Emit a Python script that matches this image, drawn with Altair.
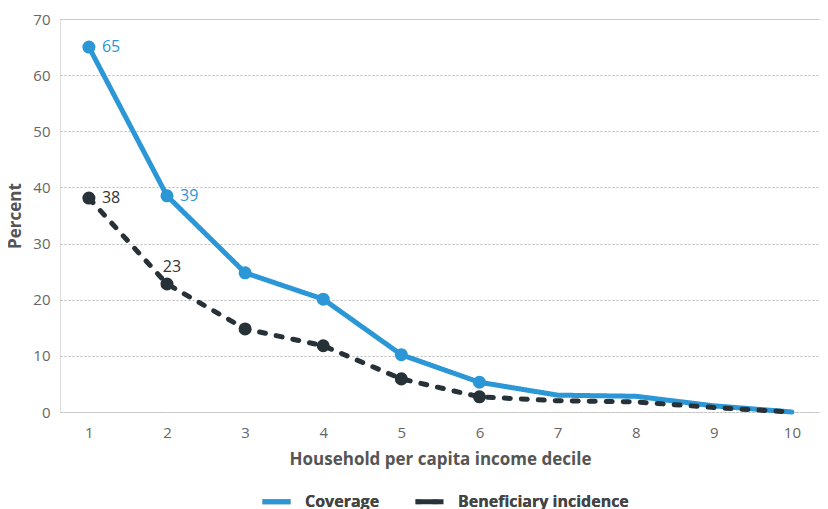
import altair as alt
import pandas as pd

deciles = [1, 2, 3, 4, 5, 6, 7, 8, 9, 10]
coverage = [65.0, 38.5, 24.8, 20.1, 10.2, 5.3, 3.0, 2.8, 1.1, 0.0]
beneficiary = [38.1, 22.8, 14.8, 11.8, 5.9, 2.7, 2.0, 1.8, 0.8, 0.0]
series_names = ["Coverage", "Beneficiary incidence"]
series_colors = ["#2b97d6", "#263238"]
marker_deciles = [1, 2, 3, 4, 5, 6]
y_ticks = [0, 10, 20, 30, 40, 50, 60, 70]

# labelled points: (series, decile, label text, placement)
label_series = ["Coverage", "Coverage", "Beneficiary incidence", "Beneficiary incidence"]
label_deciles = [1, 2, 1, 2]
label_texts = ["65", "39", "38", "23"]
label_place = ["right", "right", "right", "above"]

rows = []
for name, vals in zip(series_names, [coverage, beneficiary]):
    for d, v in zip(deciles, vals):
        rows.append({"decile": d, "value": v, "series": name, "marker": d in marker_deciles})
df = pd.DataFrame(rows)

lab = pd.DataFrame({
    "series": label_series,
    "decile": label_deciles,
    "text": label_texts,
    "place": label_place,
})
lab = lab.merge(df[["series", "decile", "value"]], on=["series", "decile"])

FONT = "Open Sans"

x_enc = alt.X(
    "decile:Q",
    scale=alt.Scale(domain=[0.63, 10.36], nice=False, zero=False),
    axis=alt.Axis(
        values=deciles, format="d", grid=False, domain=False, ticks=False,
        labelFontSize=15, labelColor="#666666", labelPadding=13, labelFont=FONT,
        title="Household per capita income decile", titleFontSize=17,
        titleFontWeight="bold", titleColor="#555555", titlePadding=11, titleFont=FONT,
    ),
)
y_enc = alt.Y(
    "value:Q",
    scale=alt.Scale(domain=[0, 70], nice=False),
    axis=alt.Axis(
        values=y_ticks, grid=True, gridDash=[2, 2], gridColor="#bbbbbb", gridWidth=1,
        domain=False, ticks=False, labelFontSize=15, labelColor="#666666",
        labelPadding=10, labelFont=FONT,
        title="Percent", titleFontSize=17, titleFontWeight="bold",
        titleColor="#555555", titlePadding=8, titleFont=FONT,
    ),
)

color_scale = alt.Scale(domain=series_names, range=series_colors)
dash_scale = alt.Scale(domain=series_names, range=[[1, 0], [6, 11]])

legend = alt.Legend(
    title=None, orient="none", legendX=200, legendY=466, direction="horizontal",
    symbolType="stroke", symbolSize=784, symbolStrokeWidth=5,
    labelFontSize=16, labelFontWeight="bold", labelColor="#444444", labelFont=FONT,
    labelLimit=400, columnPadding=25, symbolOffset=0, labelOffset=12,
)

lines = alt.Chart(df).mark_line(strokeWidth=5, strokeCap="round", strokeJoin="round").encode(
    x=x_enc,
    y=y_enc,
    color=alt.Color("series:N", scale=color_scale, legend=legend, sort=series_names),
    strokeDash=alt.StrokeDash("series:N", scale=dash_scale, legend=legend, sort=series_names),
    detail="series:N",
)

points = alt.Chart(df).transform_filter("datum.marker").mark_point(
    filled=True, opacity=1, size=170, shape="circle"
).encode(
    x="decile:Q",
    y="value:Q",
    color=alt.Color("series:N", scale=color_scale, legend=None),
)

label_colors = alt.Scale(domain=series_names, range=["#2b97d6", "#333333"])

text_right = alt.Chart(lab).transform_filter("datum.place == 'right'").mark_text(
    align="left", baseline="middle", dx=13, dy=0, fontSize=16, font=FONT
).encode(
    x="decile:Q", y="value:Q", text="text:N",
    color=alt.Color("series:N", scale=label_colors, legend=None),
)

text_above = alt.Chart(lab).transform_filter("datum.place == 'above'").mark_text(
    align="center", baseline="bottom", dx=5, dy=-9, fontSize=16, font=FONT
).encode(
    x="decile:Q", y="value:Q", text="text:N",
    color=alt.Color("series:N", scale=label_colors, legend=None),
)

chart = alt.layer(lines, points, text_right, text_above).resolve_scale(color="independent").properties(
    width=760, height=393,
    autosize=alt.AutoSizeParams(type="none"),
    padding={"left": 52, "top": 11, "right": 0, "bottom": 100},
).configure_view(stroke=None).configure(font=FONT)

chart.save("out.html", embed_options={"renderer": "svg", "actions": False})
